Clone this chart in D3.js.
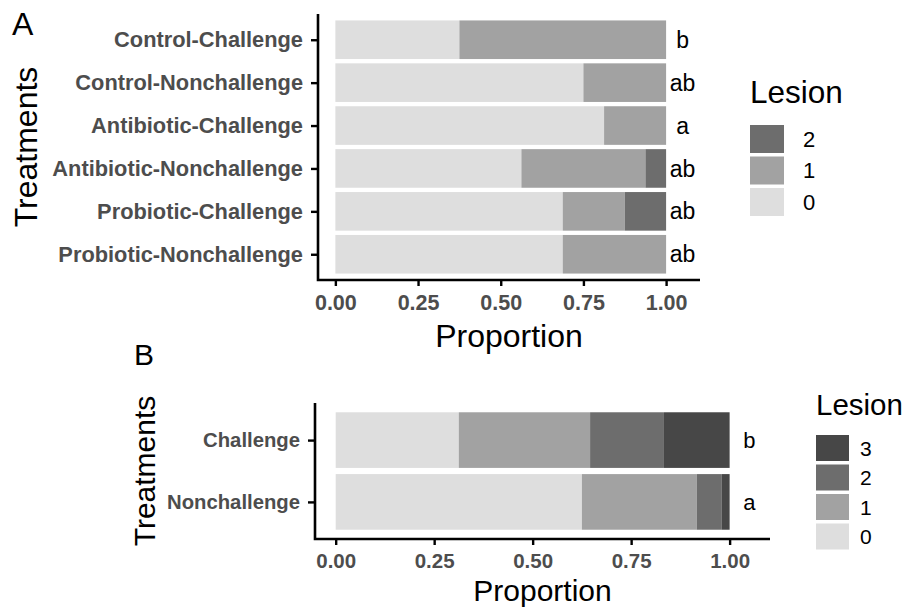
<!DOCTYPE html>
<html><head><meta charset="utf-8">
<script src="https://cdn.jsdelivr.net/npm/d3@7"></script>
<style>body{margin:0;background:#fff;} svg{display:block;} text{font-family:"Liberation Sans",Arial,sans-serif;}</style>
</head><body><svg id="c" width="907" height="607"></svg>
<script>
// ---- data ----
const catsA = ["Control-Challenge","Control-Nonchallenge","Antibiotic-Challenge","Antibiotic-Nonchallenge","Probiotic-Challenge","Probiotic-Nonchallenge"];
const lesion0A = [0.375, 0.75, 0.8125, 0.5625, 0.6875, 0.6875];
const lesion1A = [0.625, 0.25, 0.1875, 0.375, 0.1875, 0.3125];
const lesion2A = [0, 0, 0, 0.0625, 0.125, 0];
const lettersA = ["b","ab","a","ab","ab","ab"];
const levelsA = ["0","1","2"];

const catsB = ["Challenge","Nonchallenge"];
const lesion0B = [0.3125, 0.625];
const lesion1B = [0.3333, 0.2917];
const lesion2B = [0.1875, 0.0625];
const lesion3B = [0.1667, 0.0208];
const lettersB = ["b","a"];
const levelsB = ["0","1","2","3"];

const xTicks = [0, 0.25, 0.5, 0.75, 1];
const tickLabels = ["0.00","0.25","0.50","0.75","1.00"];
const greys = {"0":"#dedede","1":"#a2a2a2","2":"#6d6d6d","3":"#474747"};

const svg = d3.select("#c");

function panel(cfg){
  const g = svg.append("g");
  const x = d3.scaleLinear().domain([-0.0525, 1.1025]).range([cfg.left, cfg.right]);
  const y = d3.scalePoint().domain(cfg.cats).range([cfg.top, cfg.bottom]).padding(0.6);
  const bh = y.step()*0.9;
  const rows = cfg.cats.map((c,i)=>{const r={cat:c}; cfg.levels.forEach((l,j)=>r[l]=cfg.series[j][i]); return r;});
  const stack = d3.stack().keys(cfg.levels)(rows);
  stack.forEach(s=>{
    g.selectAll(null).data(s).enter().append("rect")
      .attr("x", d=>x(d[0])).attr("width", d=>x(d[1])-x(d[0]))
      .attr("y", d=>y(d.data.cat)-bh/2).attr("height", bh)
      .attr("fill", greys[s.key]);
  });
  // letters
  g.selectAll(null).data(cfg.cats).enter().append("text")
    .attr("x", x(1.05)).attr("y", d=>y(d)).attr("dy","0.35em")
    .attr("text-anchor","middle").attr("font-size", cfg.lblSize).attr("fill","#000")
    .text((d,i)=>cfg.letters[i]);
  // axes
  const xa = g.append("g").attr("transform",`translate(0,${cfg.bottom})`)
    .call(d3.axisBottom(x).tickValues(xTicks).tickFormat((d,i)=>tickLabels[i]).tickSize(6).tickPadding(cfg.xPad).tickSizeOuter(0));
  const ya = g.append("g").attr("transform",`translate(${cfg.left},0)`)
    .call(d3.axisLeft(y).tickSize(7).tickPadding(8).tickSizeOuter(0));
  [xa,ya].forEach(a=>{
    a.select(".domain").remove();
    a.selectAll("line").attr("stroke","#000").attr("stroke-width",2.4);
    a.selectAll("text").attr("font-weight","bold").attr("fill","#4d4d4d")
      .style("font-family",'"Liberation Sans",Arial,sans-serif');
  });
  xa.selectAll("text").attr("font-size",cfg.xTickSize).attr("dy","0.71em");
  ya.selectAll("text").attr("font-size",cfg.yTickSize);
  g.append("path").attr("d",`M${cfg.left},${cfg.top}V${cfg.bottom}H${cfg.right}`)
    .attr("fill","none").attr("stroke","#000").attr("stroke-width",2.6);
  // titles
  g.append("text").attr("x",(cfg.left+cfg.right)/2).attr("y",cfg.xTitleY)
    .attr("text-anchor","middle").attr("font-size",cfg.titleSize).text("Proportion");
  g.append("text").attr("transform",`translate(${cfg.yTitleX},${(cfg.top+cfg.bottom)/2}) rotate(-90)`)
    .attr("text-anchor","middle").attr("font-size",cfg.titleSize).text("Treatments");
  g.append("text").attr("x",cfg.tagX).attr("y",cfg.tagY).attr("font-size",cfg.titleSize).text(cfg.tag);
  // legend
  const lg = g.append("g");
  lg.append("text").attr("x",cfg.legX).attr("y",cfg.legTitleY).attr("font-size",cfg.legTitleSize).text("Lesion");
  const lv = cfg.levels.slice().reverse();
  lv.forEach((l,i)=>{
    const yy = cfg.legKeyY + i*cfg.legStep;
    lg.append("rect").attr("x",cfg.legX).attr("y",yy).attr("width",cfg.legKeyW).attr("height",cfg.legKeyH).attr("fill",greys[l]);
    lg.append("text").attr("x",cfg.legLabX).attr("y",yy+cfg.legKeyH/2).attr("dy","0.36em")
      .attr("font-size",cfg.legLabSize).text(l);
  });
}

panel({cats:catsA, levels:levelsA, series:[lesion0A,lesion1A,lesion2A], letters:lettersA,
  left:318, right:700, top:14, bottom:280, xTickSize:21.5, yTickSize:21.8, xPad:9, lblSize:23, titleSize:32,
  xTitleY:347, yTitleX:37, tag:"A", tagX:12, tagY:35,
  legX:750, legTitleY:103, legTitleSize:31.5, legKeyY:125, legStep:31.5, legKeyW:34, legKeyH:28, legLabX:803, legLabSize:22});

panel({cats:catsB, levels:levelsB, series:[lesion0B,lesion1B,lesion2B,lesion3B], letters:lettersB,
  left:315, right:770, top:403, bottom:539, xTickSize:20.5, yTickSize:20.3, xPad:8, lblSize:22, titleSize:30,
  xTitleY:601, yTitleX:155, tag:"B", tagX:134, tagY:365,
  legX:816, legTitleY:415, legTitleSize:29.5, legKeyY:435, legStep:29.5, legKeyW:33, legKeyH:26, legLabX:860, legLabSize:21});
</script></body></html>
